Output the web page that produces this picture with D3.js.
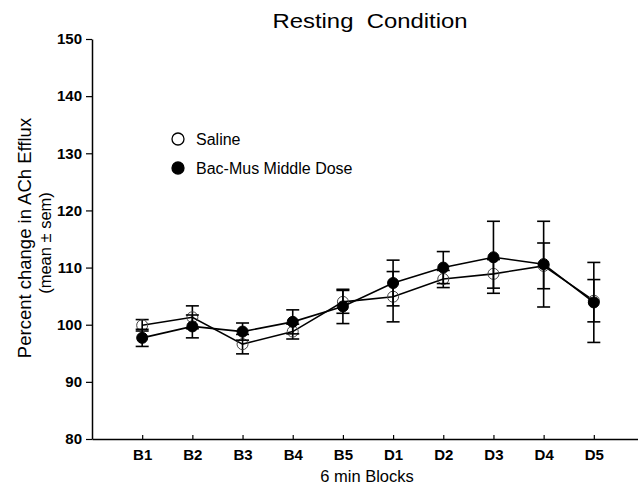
<!DOCTYPE html>
<html>
<head>
<meta charset="utf-8">
<script src="https://cdn.jsdelivr.net/npm/d3@7"></script>
<style>
  body { margin: 0; background: #fff; }
  svg { font-family: "Liberation Sans", Arial, sans-serif; }
</style>
</head>
<body>
<div id="root"></div>
<script>
const blocks = ["B1", "B2", "B3", "B4", "B5", "D1", "D2", "D3", "D4", "D5"];
const salineMean = [99.9, 101.3, 96.6, 98.8, 104.0, 104.9, 108.0, 108.9, 110.3, 104.2];
const salineSem  = [1.0, 2.0, 1.7, 1.3, 2.0, 4.4, 1.5, 2.5, 4.0, 3.7];
const bacMean = [97.7, 99.7, 98.8, 100.5, 103.2, 107.3, 110.0, 111.8, 110.6, 103.9];
const bacSem  = [1.5, 2.0, 1.5, 2.1, 3.0, 4.0, 2.8, 6.3, 7.5, 7.0];
const yTicks = [80, 90, 100, 110, 120, 130, 140, 150];

const width = 638, height = 487;

let svg = d3.select("#root").append("svg")
    .attr("width", width)
    .attr("height", height);

let x = d3.scalePoint()
    .domain(blocks)
    .range([92, 644])
    .padding(1);

let y = d3.scaleLinear()
    .domain([80, 150])
    .range([439, 39]);

// axes
let xAxis = d3.axisBottom(x)
    .tickSize(-4)
    .tickSizeOuter(0)
    .tickPadding(10);

let gx = svg.append("g")
    .attr("transform", "translate(0,439)")
    .call(xAxis);
gx.select(".domain").attr("stroke-width", 1.5);
gx.selectAll(".tick line").attr("stroke-width", 1.2);
gx.selectAll("text")
    .attr("font-size", 15)
    .attr("font-weight", "bold")
    .attr("font-family", "Liberation Sans, Arial, sans-serif")
    .attr("fill", "#000");

let yAxis = d3.axisLeft(y)
    .tickValues(yTicks)
    .tickSize(6)
    .tickSizeOuter(0)
    .tickPadding(4);

let gy = svg.append("g")
    .attr("transform", "translate(92,0)")
    .call(yAxis);
gy.select(".domain").attr("stroke-width", 1.5);
gy.selectAll(".tick line").attr("stroke-width", 1.2);
gy.selectAll("text")
    .attr("font-size", 15)
    .attr("font-weight", "bold")
    .attr("font-family", "Liberation Sans, Arial, sans-serif")
    .attr("fill", "#000");

// titles
svg.append("text")
    .attr("x", 370)
    .attr("y", 28)
    .attr("text-anchor", "middle")
    .attr("font-size", 21)
    .attr("textLength", 195)
    .attr("lengthAdjust", "spacingAndGlyphs")
    .style("white-space", "pre")
    .text("Resting  Condition");

svg.append("text")
    .attr("x", 367)
    .attr("y", 482)
    .attr("text-anchor", "middle")
    .attr("font-size", 16.5)
    .text("6 min Blocks");

svg.append("text")
    .attr("transform", "translate(31,238) rotate(-90)")
    .attr("text-anchor", "middle")
    .attr("font-size", 18.5)
    .text("Percent change in ACh Efflux");

svg.append("text")
    .attr("transform", "translate(51,243) rotate(-90)")
    .attr("text-anchor", "middle")
    .attr("font-size", 16.5)
    .text("(mean \u00b1 sem)");

// series
const series = [
  {name: "Saline", mean: salineMean, sem: salineSem, fill: "none", stroke: "#444"},
  {name: "Bac-Mus Middle Dose", mean: bacMean, sem: bacSem, fill: "#000", stroke: "#000"}
];

let line = d3.line()
    .x((d, i) => x(blocks[i]))
    .y(d => y(d));

series.forEach(s => {
  let g = svg.append("g");
  g.append("path")
      .datum(s.mean)
      .attr("fill", "none")
      .attr("stroke", "#000")
      .attr("stroke-width", 1.6)
      .attr("d", line);

  let bars = g.selectAll(".err")
      .data(s.mean)
      .enter().append("g")
      .attr("class", "err")
      .attr("stroke", "#000")
      .attr("stroke-width", 1.6);
  bars.append("line")
      .attr("x1", (d, i) => x(blocks[i]))
      .attr("x2", (d, i) => x(blocks[i]))
      .attr("y1", (d, i) => y(d - s.sem[i]))
      .attr("y2", (d, i) => y(d + s.sem[i]));
  [-1, 1].forEach(sign => {
    bars.append("line")
        .attr("x1", (d, i) => x(blocks[i]) - 6.5)
        .attr("x2", (d, i) => x(blocks[i]) + 6.5)
        .attr("y1", (d, i) => y(d + sign * s.sem[i]))
        .attr("y2", (d, i) => y(d + sign * s.sem[i]));
  });

  g.selectAll(".dot")
      .data(s.mean)
      .enter().append("circle")
      .attr("class", "dot")
      .attr("r", 5.5)
      .attr("cx", (d, i) => x(blocks[i]))
      .attr("cy", d => y(d))
      .attr("fill", s.fill)
      .attr("stroke", s.stroke)
      .attr("stroke-width", 1);
});

// legend
let legend = svg.selectAll(".legend")
    .data(series)
    .enter().append("g")
    .attr("class", "legend")
    .attr("transform", (d, i) => "translate(178," + (139 + i * 29) + ")");

legend.append("circle")
    .attr("r", 6)
    .attr("fill", d => d.fill === "none" ? "#fff" : d.fill)
    .attr("stroke", "#000")
    .attr("stroke-width", 1.3);

legend.append("text")
    .attr("x", 18)
    .attr("dy", "0.35em")
    .attr("font-size", 16)
    .text(d => d.name);
</script>
</body>
</html>
